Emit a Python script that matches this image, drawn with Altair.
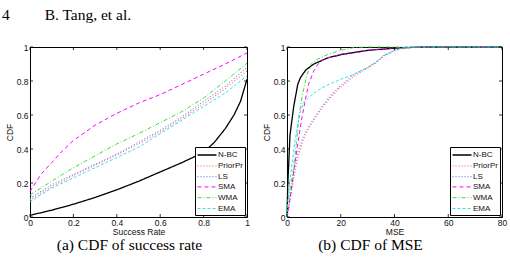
import altair as alt
import pandas as pd

SERIES = ["N-BC", "PriorPr", "LS", "SMA", "WMA", "EMA"]
COLORS = ["#000000", "#ff6f6f", "#7f7fff", "#ff00ff", "#22dd22", "#00dddd"]
DASHES = [[1, 0], [1, 2], [1, 2], [4, 3], [4, 2, 1, 2], [3, 2]]
WIDTHS = [1.3, 0.8, 0.8, 1.2, 1.2, 1.2]

# ---- panel (a): CDF of success rate ----
SR_X = [0, 0.05, 0.1, 0.15, 0.2, 0.3, 0.4, 0.5, 0.6, 0.7, 0.8, 0.9, 1.0]
SR_NBC_X = [0, 0.1, 0.2, 0.3, 0.4, 0.5, 0.6, 0.7, 0.8, 0.85, 0.9, 0.94, 0.97, 1.0]
SR_NBC_Y = [0.01, 0.04, 0.075, 0.115, 0.16, 0.21, 0.265, 0.32, 0.38, 0.44, 0.52, 0.60, 0.68, 0.81]
SR_PRIOR = [0.10, 0.14, 0.18, 0.21, 0.245, 0.305, 0.365, 0.43, 0.50, 0.58, 0.665, 0.755, 0.86]
SR_LS = [0.11, 0.15, 0.19, 0.22, 0.25, 0.31, 0.37, 0.44, 0.51, 0.59, 0.68, 0.77, 0.88]
SR_SMA = [0.15, 0.25, 0.32, 0.39, 0.45, 0.54, 0.61, 0.67, 0.72, 0.78, 0.84, 0.90, 0.965]
SR_WMA = [0.13, 0.17, 0.21, 0.25, 0.29, 0.36, 0.43, 0.49, 0.555, 0.62, 0.70, 0.80, 0.905]
SR_EMA = [0.09, 0.13, 0.17, 0.20, 0.23, 0.29, 0.35, 0.41, 0.49, 0.57, 0.65, 0.73, 0.83]

# ---- panel (b): CDF of MSE ----
MSE_NBC_X = [0, 0.3, 0.6, 1.1, 2.5, 4, 5, 7, 10, 15, 20, 30, 40, 50, 80]
MSE_NBC_Y = [0, 0.2, 0.3, 0.48, 0.65, 0.78, 0.82, 0.865, 0.90, 0.935, 0.955, 0.98, 0.993, 1.0, 1.0]
MSE_SMA_X = [0, 0.5, 1.5, 2.5, 4, 5.5, 6.7, 8, 10, 12, 15, 20, 30, 40, 50, 80]
MSE_SMA_Y = [0, 0.04, 0.15, 0.27, 0.43, 0.58, 0.68, 0.78, 0.86, 0.91, 0.935, 0.958, 0.982, 0.995, 1.0, 1.0]
MSE_WMA_X = [0, 0.3, 1, 2.3, 3.6, 4.5, 5.5, 7.3, 9, 11, 15, 20, 25, 30, 80]
MSE_WMA_Y = [0, 0.07, 0.15, 0.27, 0.45, 0.60, 0.70, 0.83, 0.90, 0.925, 0.955, 0.98, 0.997, 1.0, 1.0]
MSE_EMA_X = [0, 0.3, 1, 2, 3, 4, 5, 6, 8, 10, 13, 17, 20, 25, 30, 33, 36, 40, 43, 50, 80]
MSE_EMA_Y = [0, 0.10, 0.20, 0.33, 0.45, 0.54, 0.62, 0.67, 0.70, 0.73, 0.76, 0.79, 0.81, 0.84, 0.88, 0.91, 0.95, 0.98, 0.995, 1.0, 1.0]
MSE_LS_X = [0, 1, 2, 3, 4, 6, 8, 10, 13, 16, 19, 22, 25, 30, 33, 36, 40, 43, 50, 80]
MSE_LS_Y = [0, 0.10, 0.20, 0.30, 0.38, 0.47, 0.53, 0.58, 0.65, 0.71, 0.76, 0.80, 0.84, 0.88, 0.91, 0.95, 0.98, 0.995, 1.0, 1.0]
MSE_PRIOR_Y = [0, 0.08, 0.18, 0.27, 0.35, 0.45, 0.52, 0.57, 0.64, 0.70, 0.75, 0.79, 0.83, 0.875, 0.905, 0.945, 0.978, 0.993, 1.0, 1.0]

SR_TICKS = [0, 0.2, 0.4, 0.6, 0.8, 1]
MSE_TICKS = [0, 20, 40, 60, 80]
Y_TICKS = [0, 0.2, 0.4, 0.6, 0.8, 1]


def long_df(pairs):
    rows = []
    for name, xs, ys in pairs:
        for i, (a, b) in enumerate(zip(xs, ys)):
            rows.append({"series": name, "x": a, "y": b, "i": i})
    return pd.DataFrame(rows)


df_a = long_df([
    ("N-BC", SR_NBC_X, SR_NBC_Y),
    ("PriorPr", SR_X, SR_PRIOR),
    ("LS", SR_X, SR_LS),
    ("SMA", SR_X, SR_SMA),
    ("WMA", SR_X, SR_WMA),
    ("EMA", SR_X, SR_EMA),
])
df_b = long_df([
    ("N-BC", MSE_NBC_X, MSE_NBC_Y),
    ("PriorPr", MSE_LS_X, MSE_PRIOR_Y),
    ("LS", MSE_LS_X, MSE_LS_Y),
    ("SMA", MSE_SMA_X, MSE_SMA_Y),
    ("WMA", MSE_WMA_X, MSE_WMA_Y),
    ("EMA", MSE_EMA_X, MSE_EMA_Y),
])

SANS = "Liberation Sans"
SERIF = "Liberation Serif"
H = 170


def panel(df, xdom, xticks, xfmt, xtitle, caption, w, cap_dx):
    x_axis = alt.Axis(values=xticks, title=xtitle, format=xfmt, ticks=False, domain=False,
                      grid=False, labelFont=SANS, labelFontSize=8.5, labelColor="#111",
                      labelPadding=1, labelOverlap=False, labelFlush=False,
                      titleFont=SANS, titleFontSize=8.5,
                      titleFontWeight="normal", titleColor="#111", titlePadding=1)
    y_axis = alt.Axis(values=Y_TICKS, title="CDF", format=".1~f", ticks=False, domain=False,
                      grid=False, labelFont=SANS, labelFontSize=8.5, labelColor="#111",
                      labelPadding=2, labelOverlap=False, labelFlush=False,
                      titleFont=SANS, titleFontSize=8.5,
                      titleFontWeight="normal", titleColor="#111", titlePadding=2)
    xs = alt.Scale(domain=xdom, nice=False, zero=False)
    ys = alt.Scale(domain=[0, 1], nice=False)
    lines = alt.Chart(df).mark_line().encode(
        x=alt.X("x:Q", scale=xs, axis=x_axis),
        y=alt.Y("y:Q", scale=ys, axis=y_axis),
        color=alt.Color("series:N", scale=alt.Scale(domain=SERIES, range=COLORS),
                        legend=alt.Legend(title=None, orient="bottom-right", offset=2, padding=2,
                                          strokeColor="black", fillColor="white", cornerRadius=0,
                                          labelFont=SANS, labelFontSize=8, labelColor="#111",
                                          symbolType="M-1.9,0H1.9", symbolSize=100,
                                          symbolFillColor="transparent", symbolOffset=4,
                                          labelOffset=5, rowPadding=0.8)),
        strokeDash=alt.StrokeDash("series:N", scale=alt.Scale(domain=SERIES, range=DASHES)),
        strokeWidth=alt.StrokeWidth("series:N", scale=alt.Scale(domain=SERIES, range=WIDTHS)),
        order="i:Q",
    )
    tx = pd.DataFrame({"x": xticks})
    ty = pd.DataFrame({"y": Y_TICKS})
    tick_top = alt.Chart(tx).mark_rule(color="black", strokeWidth=0.8).encode(
        x=alt.X("x:Q", scale=xs, axis=x_axis), y=alt.value(0), y2=alt.value(3))
    tick_bot = alt.Chart(tx).mark_rule(color="black", strokeWidth=0.8).encode(
        x=alt.X("x:Q", scale=xs, axis=x_axis), y=alt.value(H - 3), y2=alt.value(H))
    tick_l = alt.Chart(ty).mark_rule(color="black", strokeWidth=0.8).encode(
        y=alt.Y("y:Q", scale=ys, axis=y_axis), x=alt.value(0), x2=alt.value(3))
    tick_r = alt.Chart(ty).mark_rule(color="black", strokeWidth=0.8).encode(
        y=alt.Y("y:Q", scale=ys, axis=y_axis), x=alt.value(w - 3), x2=alt.value(w))
    return alt.layer(lines, tick_top, tick_bot, tick_l, tick_r).properties(
        width=w, height=H,
        title=alt.TitleParams(caption, orient="bottom", anchor="middle", frame="group",
                              font=SERIF, fontSize=15.5, fontWeight="normal", color="black",
                              offset=2, dx=cap_dx),
    )


left = panel(df_a, [0, 1], SR_TICKS, ".1~f", "Success Rate", "(a) CDF of success rate", 217, -9)
right = panel(df_b, [0, 80], MSE_TICKS, "d", "MSE", "(b) CDF of MSE", 215, -24)

header = "4" + "\u00a0" * 9 + "B. Tang, et al."

chart = alt.hconcat(left, right, spacing=40, bounds="flush").resolve_scale(
    x="independent", y="independent", color="independent",
    strokeDash="independent", strokeWidth="independent",
).resolve_legend(
    color="independent", strokeDash="independent", strokeWidth="independent",
).properties(
    title=alt.TitleParams(header, anchor="start", frame="group", font=SERIF, fontSize=15.5,
                          fontWeight="normal", color="black", offset=19, dx=-28),
    padding={"left": 2, "top": 8, "right": 0, "bottom": 0},
).configure_view(stroke="black", strokeWidth=1)

chart.save("out.html", embed_options={"renderer": "svg", "actions": False})
